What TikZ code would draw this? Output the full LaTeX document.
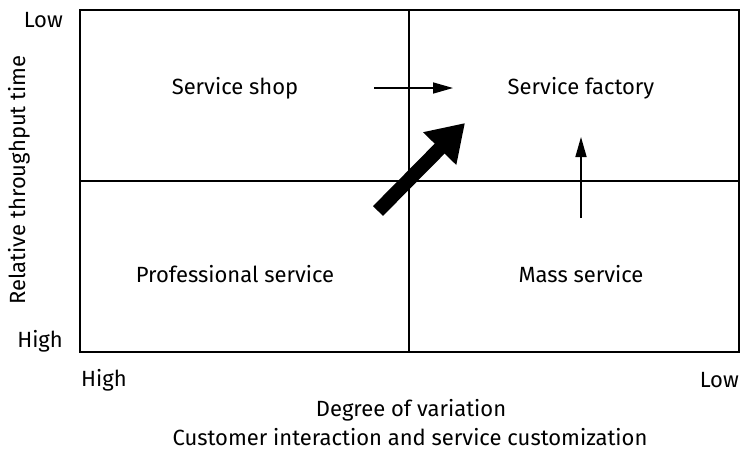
\documentclass[tikz,border=0pt]{standalone}
\usepackage{fontspec}
\setmainfont{Fira Sans}
\usetikzlibrary{arrows.meta}

\tikzset{
	label text/.style={font=\fontsize{22}{26}\selectfont, inner sep=0pt},
	thin arrow/.style={line width=1.6pt, -{Triangle[length=20pt,width=11pt]}},
	fat arrow/.style={line width=14pt, -{Triangle[length=36pt,width=44pt]}}
}

\begin{document}
\begin{tikzpicture}[x=1pt, y=-1pt]
		\useasboundingbox (0,0) rectangle (740,451);

		% quadrant frame
		\draw [line width=2.4pt] (80,10) rectangle (739,352);
		\draw [line width=2.4pt] (409,10) -- (409,352);
		\draw [line width=2.4pt] (80,181) -- (739,181);

		\foreach \n/\l/\x/\y in {shop/Service shop/235/88, factory/Service factory/581/88,
			prof/Professional service/235/274, mass/Mass service/581/274}
		\node [label text] (\n) at (\x,\y) {\l};

		% axis labels
		\node [label text, anchor=east] (ylow) at (63,20) {Low};
		\node [label text, anchor=east] (yhigh) at (63,341) {High};
		\node [label text, rotate=90] (ytitle) at (19,180) {Relative throughput time};
		\node [label text, anchor=west] (xhigh) at (81,380) {High};
		\node [label text, anchor=east] (xlow) at (739,380) {Low};
		\node [label text] (xtitle1) at (411,410) {Degree of variation};
		\node [label text] (xtitle2) at (410,437) {Customer interaction and service customization};

		% shifts
		\coordinate (h-from) at (374,88);
		\coordinate (h-to) at (453,88);
		\coordinate (v-from) at (581,218);
		\coordinate (v-to) at (581,137);
		\coordinate (d-from) at (378,211);
		\coordinate (d-to) at (465,123);

		\draw [thin arrow] (h-from) -- (h-to);
		\draw [thin arrow] (v-from) -- (v-to);
		\draw [fat arrow] (d-from) -- (d-to);

	\end{tikzpicture}
\end{document}
